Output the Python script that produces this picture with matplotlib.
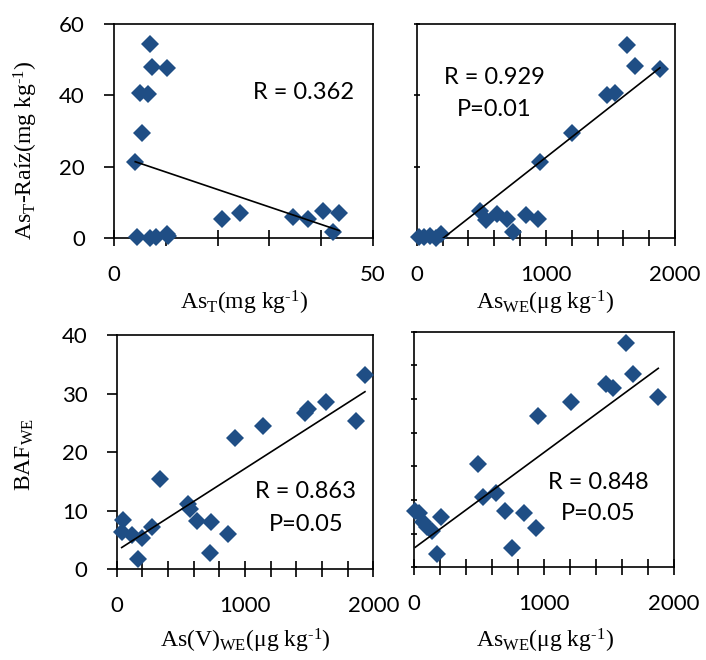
import matplotlib
matplotlib.use("Agg")
import matplotlib.pyplot as plt
import numpy as np

plt.rcParams["mathtext.fontset"] = "custom"
plt.rcParams["mathtext.rm"] = "Liberation Serif"
plt.rcParams["mathtext.it"] = "Liberation Serif:italic"

# As_T vs As_T root
p1_x = [6.9, 7.3, 10.2, 5.0, 6.6, 5.5, 4.1, 4.4, 6.9, 8.2, 10.2, 10.5,
        20.8, 24.3, 34.6, 37.5, 40.4, 43.5, 42.3]
p1_y = [54.3, 48.0, 47.6, 40.6, 40.3, 29.5, 21.4, 0.3, 0.1, 0.4, 1.2, 0.5,
        5.3, 6.9, 5.8, 5.3, 7.6, 6.9, 1.8]
p1_fit = (-0.49, 23.4)

# As_WE vs As_T root
p2_x = [1625, 1690, 1883, 1470, 1535, 1205, 954, 490, 536, 619, 697, 748,
        846, 941, 20, 60, 100, 150, 190]
p2_y = [54.1, 48.3, 47.4, 40.1, 40.6, 29.4, 21.2, 7.6, 5.0, 6.6, 5.3, 1.6,
        6.4, 5.3, 0.2, 0.3, 0.5, 0.1, 1.0]
p2_fit = (0.02845, -5.86)

# As(V)_WE vs BAF_WE
p3_x = [1935, 1865, 1631, 1494, 1468, 1138, 922, 337, 558, 571, 628, 733,
        870, 727, 273, 168, 195, 52, 39, 117]
p3_y = [33.2, 25.3, 28.6, 27.3, 26.6, 24.5, 22.5, 15.4, 11.1, 10.3, 8.2, 8.1,
        6.0, 2.8, 7.3, 1.8, 5.3, 8.4, 6.4, 5.9]
p3_fit = (0.01403, 3.17)

# As_WE vs BAF_WE
p4_x = [1631, 1687, 1879, 1477, 1533, 1205, 956, 495, 533, 628, 700, 846,
        938, 751, 205, 180, 10, 40, 70, 100, 140]
p4_y = [33.3, 28.7, 25.3, 27.3, 26.7, 24.5, 22.5, 15.3, 10.5, 11.1, 8.3, 8.1,
        5.9, 2.9, 7.5, 2.0, 8.4, 8.0, 6.8, 6.0, 5.4]
p4_fit = (0.01422, 2.84)

MARKER_COLOR = "#1F4E85"
TICK_FONT = "Lato"
LABEL_FONT = "Liberation Serif"

W, H = 706, 660
fig = plt.figure(figsize=(W / 100, H / 100), dpi=100)


def px_axes(left, top, right, bottom):
    return fig.add_axes([left / W, 1 - bottom / H, (right - left) / W, (bottom - top) / H])


def draw_panel(ax, x, y, fit, xlim, ylim, xticks, xlabels, yticks, ylabels, ytick_dir):
    ax.plot(x, y, "D", color=MARKER_COLOR, markersize=9, markeredgewidth=0,
            clip_on=False, zorder=3)
    xs = np.array([min(x), max(x)])
    ax.plot(xs, fit[0] * xs + fit[1], color="black", linewidth=1.2, zorder=4)
    ax.set_xlim(*xlim)
    ax.set_ylim(*ylim)
    ax.set_xticks(xticks)
    ax.set_xticklabels(xlabels, fontfamily=TICK_FONT, fontsize=16)
    ax.set_yticks(yticks)
    ax.set_yticklabels(ylabels, fontfamily=TICK_FONT, fontsize=16)
    ax.tick_params(axis="x", direction="inout", length=11, width=1.2, pad=14)
    ax.tick_params(axis="y", direction=ytick_dir, length=7 if ytick_dir == "out" else 5,
                   width=1.2, pad=14)
    for s in ax.spines.values():
        s.set_linewidth(1.2)


ax1 = px_axes(114, 24, 373, 238)
draw_panel(ax1, p1_x, p1_y, p1_fit, (0, 50), (0, 60),
           range(0, 51, 10), ["0", "", "", "", "", "50"],
           [0, 20, 40, 60], ["0", "20", "40", "60"], "out")
ax1.text(0.73, 0.68, "R = 0.362", transform=ax1.transAxes, ha="center",
         va="center", fontfamily=TICK_FONT, fontsize=17)

ax2 = px_axes(416.7, 24, 675, 238)
draw_panel(ax2, p2_x, p2_y, p2_fit, (0, 2000), (0, 60),
           range(0, 2001, 200), ["0", "", "", "", "", "1000", "", "", "", "", "2000"],
           [0, 20, 40, 60], ["", "", "", ""], "inout")
ax2.text(0.30, 0.75, "R = 0.929", transform=ax2.transAxes, ha="center",
         va="center", fontfamily=TICK_FONT, fontsize=17)
ax2.text(0.30, 0.60, "P=0.01", transform=ax2.transAxes, ha="center",
         va="center", fontfamily=TICK_FONT, fontsize=17)

ax3 = px_axes(116.7, 335, 373.3, 569.3)
draw_panel(ax3, p3_x, p3_y, p3_fit, (0, 2000), (0, 40),
           range(0, 2001, 200), ["0", "", "", "", "", "1000", "", "", "", "", "2000"],
           [0, 10, 20, 30, 40], ["0", "10", "20", "30", "40"], "out")
ax3.text(0.737, 0.33, "R = 0.863", transform=ax3.transAxes, ha="center",
         va="center", fontfamily=TICK_FONT, fontsize=17)
ax3.text(0.737, 0.19, "P=0.05", transform=ax3.transAxes, ha="center",
         va="center", fontfamily=TICK_FONT, fontsize=17)

ax4 = px_axes(414, 331.7, 674, 567.3)
draw_panel(ax4, p4_x, p4_y, p4_fit, (0, 2000), (0, 35),
           range(0, 2001, 200), ["0", "", "", "", "", "1000", "", "", "", "", "2000"],
           range(0, 36, 5), [""] * 8, "inout")
ax4.text(0.707, 0.36, "R = 0.848", transform=ax4.transAxes, ha="center",
         va="center", fontfamily=TICK_FONT, fontsize=17)
ax4.text(0.707, 0.23, "P=0.05", transform=ax4.transAxes, ha="center",
         va="center", fontfamily=TICK_FONT, fontsize=17)

# axis titles (superscript uses a plain hyphen, as in the original)
label_kw = dict(fontfamily=LABEL_FONT, fontsize=17, ha="center", va="center")
sup = r"$^{\mathrm{‐1}}$"
fig.text(244 / W, 1 - 303 / H, r"As$_{\mathrm{T}}$(mg kg" + sup + ")", **label_kw)
fig.text(545 / W, 1 - 303 / H, r"As$_{\mathrm{WE}}$(μg kg" + sup + ")", **label_kw)
fig.text(245 / W, 1 - 641 / H, r"As(V)$_{\mathrm{WE}}$(μg kg" + sup + ")", **label_kw)
fig.text(545 / W, 1 - 641 / H, r"As$_{\mathrm{WE}}$(μg kg" + sup + ")", **label_kw)
fig.text(26 / W, 1 - 150 / H, r"As$_{\mathrm{T}}$-Raíz(mg kg" + sup + ")",
         rotation=90, **label_kw)
fig.text(25 / W, 1 - 455 / H, r"BAF$_{\mathrm{WE}}$", rotation=90, **label_kw)

fig.savefig("out.png", dpi=100)
